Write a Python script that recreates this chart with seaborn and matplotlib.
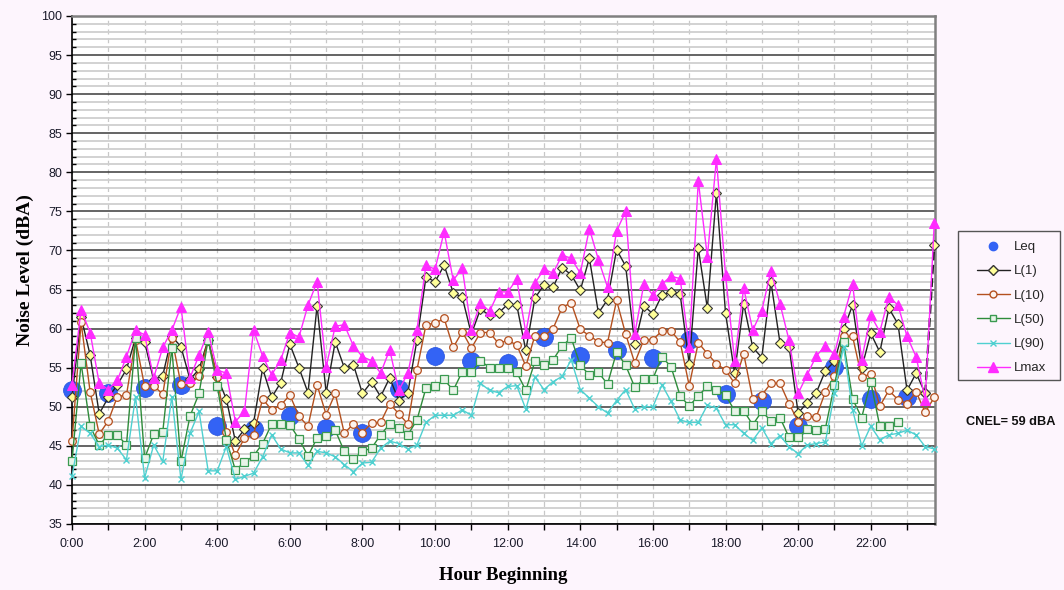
import numpy as np
import pandas as pd
import matplotlib
matplotlib.use("Agg")
import matplotlib.pyplot as plt
import seaborn as sns
from matplotlib.ticker import MultipleLocator, FixedLocator
from matplotlib.lines import Line2D
from matplotlib.patches import Rectangle

# ---------------- data ----------------
quarter_hours = np.arange(96) / 4.0
leq_hours = np.arange(24)

leq = [52.1, 51.8, 52.4, 52.8, 47.6, 47.2, 48.8, 47.3, 46.7, 52.3, 56.5, 55.9,
       55.6, 58.9, 56.5, 57.2, 56.2, 58.5, 51.6, 50.7, 47.5, 55.1, 51.0, 51.3]

l1 = [51.2, 61.5, 56.6, 49.1, 51.2, 52.8, 54.8, 58.8, 58.3, 53.4, 54.0, 59.0,
      57.7, 53.5, 54.8, 58.6, 53.8, 51.0, 45.6, 47.1, 47.9, 54.9, 51.2, 53.1,
      58.0, 55.0, 51.8, 62.9, 51.8, 58.3, 55.0, 55.4, 51.7, 53.2, 51.3, 53.7,
      50.8, 51.8, 58.5, 66.6, 66.0, 68.1, 64.6, 64.0, 59.3, 62.5, 61.7, 62.0,
      63.1, 63.0, 57.2, 63.9, 65.6, 65.3, 67.8, 66.9, 64.9, 69.0, 62.0, 63.7,
      70.1, 68.0, 58.0, 62.9, 61.9, 64.3, 64.7, 64.4, 55.5, 70.3, 62.6, 77.4,
      62.0, 54.3, 63.2, 57.6, 56.3, 66.0, 58.2, 57.7, 49.2, 50.5, 51.8, 54.6,
      55.8, 59.9, 63.0, 54.9, 59.4, 57.0, 62.6, 60.6, 52.1, 54.3, 51.7, 70.7]

l10 = [45.6, 60.8, 51.9, 46.5, 48.2, 51.3, 51.5, 58.6, 52.6, 52.7, 51.6, 58.8,
       52.9, 53.0, 53.9, 58.6, 53.8, 46.8, 43.8, 46.0, 46.4, 51.0, 49.6, 50.2,
       51.5, 48.8, 47.5, 52.8, 49.0, 51.7, 46.6, 47.8, 46.7, 47.9, 48.0, 50.4,
       49.1, 47.8, 54.7, 60.5, 60.7, 61.3, 57.6, 59.6, 57.5, 59.5, 59.5, 58.1,
       58.5, 57.9, 55.2, 59.1, 59.0, 60.0, 62.7, 63.3, 59.9, 59.1, 58.3, 58.2,
       63.6, 59.3, 55.6, 58.6, 58.6, 59.7, 59.7, 58.3, 52.7, 58.2, 56.8, 55.5,
       54.7, 53.0, 56.8, 51.0, 51.5, 53.0, 53.0, 50.4, 48.1, 48.8, 48.7, 51.9,
       53.9, 59.0, 59.0, 53.8, 54.2, 50.1, 52.1, 50.9, 50.4, 51.9, 49.3, 51.2]

l50 = [43.1, 55.6, 47.5, 45.1, 46.4, 46.4, 45.1, 58.8, 43.4, 46.5, 46.8, 57.5,
       43.0, 48.8, 51.7, 58.6, 52.7, 45.8, 41.9, 42.9, 43.7, 45.3, 47.8, 47.8,
       47.7, 45.9, 43.7, 46.0, 46.2, 47.0, 44.3, 43.3, 44.3, 44.7, 46.4, 47.8,
       47.3, 46.4, 48.3, 52.4, 52.6, 53.5, 52.1, 54.5, 54.4, 55.9, 55.0, 54.9,
       54.9, 54.4, 52.1, 55.8, 55.3, 56.0, 57.8, 58.8, 55.3, 54.1, 54.4, 52.9,
       57.0, 55.3, 52.5, 53.5, 53.6, 56.4, 55.1, 51.4, 50.1, 51.4, 52.6, 52.2,
       51.5, 49.5, 49.5, 47.7, 49.4, 48.2, 48.6, 46.1, 46.1, 47.2, 47.0, 47.2,
       52.8, 58.3, 51.0, 48.6, 53.2, 47.5, 47.5, 48.1, np.nan, np.nan, np.nan, np.nan]

l90 = [41.1, 47.5, 46.6, 44.9, 45.1, 44.7, 43.2, 51.3, 40.9, 45.1, 43.0, 51.3,
       40.7, 46.6, 49.4, 41.8, 41.8, 44.9, 40.7, 41.1, 41.5, 43.6, 46.4, 44.6,
       44.1, 44.1, 42.5, 44.3, 44.1, 43.6, 42.6, 41.7, 42.8, 42.9, 44.7, 45.6,
       45.3, 44.6, 45.1, 48.0, 48.9, 48.9, 48.9, 49.6, 48.9, 53.0, 52.1, 51.8,
       52.6, 52.7, 49.7, 53.8, 52.2, 53.2, 53.9, 56.0, 52.2, 51.1, 50.0, 49.2,
       50.8, 52.2, 49.7, 50.0, 50.0, 52.8, 50.7, 48.3, 48.0, 48.0, 50.2, 49.8,
       47.7, 47.7, 46.6, 45.7, 47.3, 45.3, 46.3, 44.9, 44.0, 45.1, 45.3, 45.5,
       51.7, 57.7, 49.6, 45.0, 47.5, 45.8, 46.4, 46.6, 47.0, 46.4, 44.9, 44.6]

lmax = [52.8, 62.4, 59.5, 53.0, 52.2, 53.4, 56.4, 59.8, 59.2, 53.7, 57.6, 59.8,
        62.8, 53.7, 56.6, 59.6, 54.7, 54.3, 48.1, 49.4, 59.8, 56.5, 54.1, 56.0,
        59.5, 58.9, 63.0, 66.0, 55.1, 60.3, 60.5, 57.8, 56.4, 55.9, 54.3, 57.3,
        52.1, 54.3, 59.8, 68.1, 67.6, 72.4, 66.2, 67.7, 59.8, 63.3, 62.2, 64.7,
        64.7, 66.3, 59.5, 65.8, 67.6, 67.1, 69.4, 69.0, 67.1, 72.8, 68.8, 65.3,
        72.5, 75.0, 59.3, 65.7, 64.3, 65.7, 66.7, 66.4, 57.6, 78.9, 69.2, 81.7,
        66.9, 55.9, 65.2, 59.8, 62.3, 67.4, 63.2, 58.5, 51.7, 54.1, 56.5, 57.8,
        56.7, 61.5, 65.7, 56.0, 61.7, 59.6, 64.1, 63.0, 59.0, 56.4, 50.9, 73.5]

series_names = ["Leq", "L(1)", "L(10)", "L(50)", "L(90)", "Lmax"]
xtick_pos = list(range(0, 23, 2))
xtick_labels = [f"{h}:00" for h in xtick_pos]
cnel_text = "CNEL= 59 dBA"

# ---------------- style ----------------
sns.set_theme(style="white")
plt.rcParams["font.family"] = ["Liberation Sans", "DejaVu Sans"]

W, H = 1064, 590
fig = plt.figure(figsize=(W / 100, H / 100), dpi=100, facecolor="#FDF5FD")
L, R, T, B = 72, 935, 16, 524
ax = fig.add_axes([L / W, 1 - B / H, (R - L) / W, (B - T) / H])
ax.set_facecolor("white")

C_LEQ = "#3363F5"
C_L10 = "#B4501E"
C_L50 = "#2E8B3A"
C_L90 = "#4FD0D0"
C_LMAX = "#FF2BFF"

df = pd.DataFrame({"t": quarter_hours, "L1": l1, "L10": l10, "L50": l50,
                   "L90": l90, "Lmax": lmax})
dleq = pd.DataFrame({"t": leq_hours, "Leq": leq})

sns.scatterplot(data=dleq, x="t", y="Leq", s=165, color=C_LEQ, edgecolor="#2A55E0",
                linewidth=0.6, ax=ax, zorder=4, clip_on=False, legend=False)

sns.lineplot(data=df.iloc[:95], x="t", y="L1", color="#222222", lw=1.0, marker="D",
             markersize=5.5, markerfacecolor="#FFFF99", markeredgecolor="#333333",
             markeredgewidth=0.8, ax=ax, zorder=5, clip_on=False, legend=False)
sns.lineplot(data=df.iloc[94:], x="t", y="L1", color="#222222", lw=1.6,
             linestyle=(0, (4, 2)), marker="D", markersize=5.5,
             markerfacecolor="#FFFF99", markeredgecolor="#333333",
             markeredgewidth=0.8, ax=ax, zorder=5, clip_on=False, legend=False)
sns.lineplot(data=df, x="t", y="L10", color=C_L10, lw=1.0, marker="o",
             markersize=5.5, markerfacecolor="#FDF3EE", markeredgecolor=C_L10,
             markeredgewidth=0.9, ax=ax, zorder=6, clip_on=False, legend=False)
sns.lineplot(data=df.dropna(subset=["L50"]), x="t", y="L50", color=C_L50, lw=1.0,
             marker="s", markersize=5.5, markerfacecolor="#E8F4E8",
             markeredgecolor="#3A9A50", markeredgewidth=0.9, ax=ax, zorder=7,
             clip_on=False, legend=False)
sns.lineplot(data=df, x="t", y="L90", color=C_L90, lw=1.0, marker="x",
             markersize=5, markeredgecolor=C_L90, markeredgewidth=1.0, ax=ax,
             zorder=8, clip_on=False, legend=False)
sns.lineplot(data=df, x="t", y="Lmax", color=C_LMAX, lw=1.0, marker="^",
             markersize=7, markerfacecolor=C_LMAX, markeredgecolor=C_LMAX,
             ax=ax, zorder=9, clip_on=False, legend=False)

# ---------------- axes ----------------
ax.set_xlim(0, 23.77)
ax.set_ylim(35, 100)
ax.xaxis.set_major_locator(FixedLocator(xtick_pos))
ax.set_xticklabels(xtick_labels)
ax.xaxis.set_minor_locator(MultipleLocator(1))
ax.yaxis.set_major_locator(MultipleLocator(5))
ax.yaxis.set_minor_locator(MultipleLocator(1))

ax.yaxis.grid(True, which="minor", color="#CFCFCF", lw=1.3, zorder=0)
ax.yaxis.grid(True, which="major", color="#3A3A3A", lw=1.1, zorder=0)
ax.xaxis.grid(True, which="both", color="#C8C8C8", lw=0.9, linestyle=(0, (4, 3)), zorder=0)
ax.set_axisbelow(True)

ax.tick_params(axis="both", which="major", direction="out", length=4, width=1,
               color="black", labelsize=9, labelcolor="#1A1A2A", pad=3,
               bottom=True, left=True)
ax.tick_params(axis="x", which="major", pad=6)
ax.tick_params(axis="x", which="minor", direction="out", length=4, width=1,
               color="black", bottom=True)
ax.tick_params(axis="y", which="minor", direction="in", length=3, width=1,
               color="black", left=True)

for s in ["left", "bottom"]:
    ax.spines[s].set_color("black")
    ax.spines[s].set_linewidth(1.2)
for s in ["top", "right"]:
    ax.spines[s].set_color("#808080")
    ax.spines[s].set_linewidth(1.8)

ax.set_xlabel("")
ax.set_ylabel("")
fig.text(25 / W, 1 - 270 / H, "Noise Level (dBA)", rotation=90, ha="center",
         va="center", fontsize=14, fontweight="bold", family="Liberation Serif",
         color="black")
fig.text(503 / W, 1 - 575 / H, "Hour Beginning", ha="center", va="center",
         fontsize=13.5, fontweight="bold", family="Liberation Serif", color="black")

# ---------------- legend ----------------
handles = [
    Line2D([], [], ls="none", marker="o", markersize=6, color=C_LEQ),
    Line2D([], [], color="#222222", lw=1, marker="D", markersize=5,
           markerfacecolor="#FFFF99", markeredgecolor="#333333"),
    Line2D([], [], color=C_L10, lw=1, marker="o", markersize=5,
           markerfacecolor="#FDF3EE", markeredgecolor=C_L10),
    Line2D([], [], color=C_L50, lw=1, marker="s", markersize=5,
           markerfacecolor="#E8F4E8", markeredgecolor="#3A9A50"),
    Line2D([], [], color=C_L90, lw=1, marker="x", markersize=5),
    Line2D([], [], color=C_LMAX, lw=1, marker="^", markersize=7),
]
fig.patches.append(Rectangle((958 / W, 1 - 380 / H), 102 / W, 149 / H,
                             transform=fig.transFigure, fill=False,
                             edgecolor="#555555", linewidth=1.0))
leg = fig.legend(handles, series_names, loc="upper left",
                 bbox_to_anchor=(977 / W, 1 - 241 / H), frameon=False,
                 fontsize=9.5, handlelength=2.5, handletextpad=0.3,
                 labelspacing=0.91, borderpad=0, borderaxespad=0)

fig.text(1011 / W, 1 - 422 / H, cnel_text, ha="center", va="center",
         fontsize=9.2, fontweight="bold", color="#111111")

fig.savefig("out.png", dpi=100, facecolor=fig.get_facecolor())
